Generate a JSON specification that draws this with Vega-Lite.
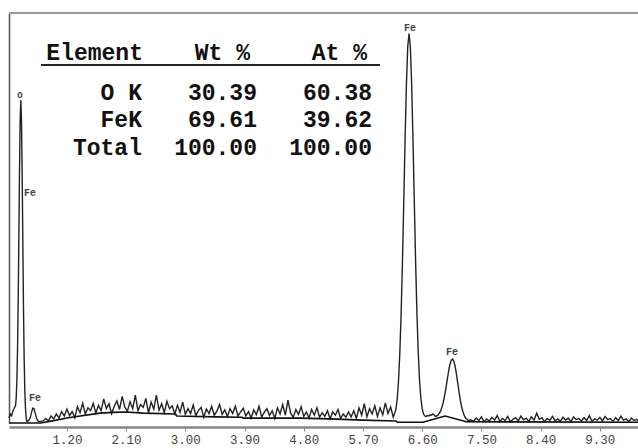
{
  "$schema": "https://vega.github.io/schema/vega-lite/v6.json",
  "width": 629,
  "height": 410,
  "autosize": "none",
  "padding": {"left": 9, "top": 13, "right": 0, "bottom": 25},
  "background": "white",
  "config": {"view": {"stroke": null}},
  "datasets": {
    "spec": [
      {"e":0.32,"c":12},{"e":0.34,"c":22},{"e":0.36,"c":18},{"e":0.38,"c":30},{"e":0.40,"c":36},{"e":0.42,"c":43},
      {"e":0.43,"c":62},{"e":0.44,"c":106},{"e":0.45,"c":182},{"e":0.46,"c":301},{"e":0.47,"c":457},{"e":0.48,"c":618},
      {"e":0.49,"c":742},{"e":0.50,"c":787},{"e":0.51,"c":737},{"e":0.52,"c":608},{"e":0.53,"c":443},{"e":0.54,"c":284},
      {"e":0.55,"c":161},{"e":0.56,"c":81},{"e":0.57,"c":37},{"e":0.58,"c":15},{"e":0.59,"c":5},{"e":0.60,"c":4},
      {"e":0.62,"c":6},{"e":0.64,"c":12},{"e":0.66,"c":24},{"e":0.68,"c":36},{"e":0.70,"c":35},{"e":0.72,"c":23},
      {"e":0.74,"c":11},{"e":0.76,"c":5},{"e":0.78,"c":3},{"e":0.80,"c":4},
      {"e":0.84,"c":5},{"e":0.88,"c":11},{"e":0.92,"c":5},{"e":0.96,"c":17},{"e":1.00,"c":10},{"e":1.04,"c":22},
      {"e":1.08,"c":12},{"e":1.12,"c":28},{"e":1.16,"c":17},{"e":1.20,"c":34},{"e":1.24,"c":18},{"e":1.28,"c":28},
      {"e":1.32,"c":13},{"e":1.36,"c":40},{"e":1.40,"c":25},{"e":1.44,"c":48},{"e":1.48,"c":22},{"e":1.52,"c":37},
      {"e":1.56,"c":30},{"e":1.60,"c":48},{"e":1.64,"c":24},{"e":1.68,"c":43},{"e":1.72,"c":30},{"e":1.76,"c":59},
      {"e":1.80,"c":35},{"e":1.84,"c":47},{"e":1.88,"c":23},{"e":1.92,"c":41},{"e":1.96,"c":54},{"e":2.00,"c":33},
      {"e":2.04,"c":65},{"e":2.08,"c":39},{"e":2.12,"c":29},{"e":2.16,"c":52},{"e":2.20,"c":35},{"e":2.24,"c":68},
      {"e":2.28,"c":30},{"e":2.32,"c":45},{"e":2.36,"c":38},{"e":2.40,"c":60},{"e":2.44,"c":25},{"e":2.48,"c":51},
      {"e":2.52,"c":34},{"e":2.56,"c":68},{"e":2.60,"c":31},{"e":2.64,"c":47},{"e":2.68,"c":25},{"e":2.72,"c":53},
      {"e":2.76,"c":35},{"e":2.80,"c":42},{"e":2.84,"c":22},{"e":2.88,"c":43},{"e":2.92,"c":26},{"e":2.96,"c":51},
      {"e":3.00,"c":21},{"e":3.04,"c":35},{"e":3.08,"c":23},{"e":3.12,"c":44},{"e":3.16,"c":18},{"e":3.20,"c":31},
      {"e":3.24,"c":38},{"e":3.28,"c":14},{"e":3.32,"c":34},{"e":3.36,"c":23},{"e":3.40,"c":41},{"e":3.44,"c":19},
      {"e":3.48,"c":29},{"e":3.52,"c":45},{"e":3.56,"c":21},{"e":3.60,"c":32},{"e":3.64,"c":16},{"e":3.68,"c":35},
      {"e":3.72,"c":23},{"e":3.76,"c":41},{"e":3.80,"c":17},{"e":3.84,"c":27},{"e":3.88,"c":36},{"e":3.92,"c":17},
      {"e":3.96,"c":28},{"e":4.00,"c":12},{"e":4.04,"c":32},{"e":4.08,"c":20},{"e":4.12,"c":41},{"e":4.16,"c":15},
      {"e":4.20,"c":26},{"e":4.24,"c":35},{"e":4.28,"c":18},{"e":4.32,"c":30},{"e":4.36,"c":11},{"e":4.40,"c":37},
      {"e":4.44,"c":22},{"e":4.48,"c":45},{"e":4.52,"c":19},{"e":4.56,"c":56},{"e":4.60,"c":24},{"e":4.64,"c":14},
      {"e":4.68,"c":33},{"e":4.72,"c":21},{"e":4.76,"c":40},{"e":4.80,"c":16},{"e":4.84,"c":27},{"e":4.88,"c":12},
      {"e":4.92,"c":33},{"e":4.96,"c":19},{"e":5.00,"c":37},{"e":5.04,"c":14},{"e":5.08,"c":25},{"e":5.12,"c":16},
      {"e":5.16,"c":30},{"e":5.20,"c":10},{"e":5.24,"c":27},{"e":5.28,"c":19},{"e":5.32,"c":33},{"e":5.36,"c":11},
      {"e":5.40,"c":22},{"e":5.44,"c":14},{"e":5.48,"c":27},{"e":5.52,"c":15},{"e":5.56,"c":30},{"e":5.60,"c":11},
      {"e":5.64,"c":37},{"e":5.68,"c":19},{"e":5.72,"c":47},{"e":5.76,"c":15},{"e":5.80,"c":35},{"e":5.84,"c":22},
      {"e":5.88,"c":42},{"e":5.92,"c":16},{"e":5.96,"c":37},{"e":6.00,"c":20},{"e":6.04,"c":49},{"e":6.08,"c":23},
      {"e":6.12,"c":39},{"e":6.14,"c":27},{"e":6.16,"c":14},{"e":6.18,"c":23},{"e":6.20,"c":33},{"e":6.22,"c":58},
      {"e":6.24,"c":102},{"e":6.26,"c":171},{"e":6.28,"c":268},{"e":6.30,"c":393},{"e":6.32,"c":540},{"e":6.34,"c":691},
      {"e":6.36,"c":825},{"e":6.38,"c":917},{"e":6.40,"c":950},{"e":6.42,"c":917},{"e":6.44,"c":825},{"e":6.46,"c":691},
      {"e":6.48,"c":540},{"e":6.50,"c":393},{"e":6.52,"c":268},{"e":6.54,"c":172},{"e":6.56,"c":103},{"e":6.58,"c":60},
      {"e":6.60,"c":35},{"e":6.62,"c":22},{"e":6.64,"c":17},{"e":6.66,"c":16},{"e":6.68,"c":18},{"e":6.70,"c":17},
      {"e":6.72,"c":20},{"e":6.74,"c":19},{"e":6.76,"c":22},{"e":6.78,"c":20},{"e":6.80,"c":16},{"e":6.82,"c":17},
      {"e":6.84,"c":19},{"e":6.86,"c":24},{"e":6.88,"c":29},{"e":6.90,"c":39},{"e":6.92,"c":50},{"e":6.94,"c":66},
      {"e":6.96,"c":84},{"e":6.98,"c":105},{"e":7.00,"c":125},{"e":7.02,"c":142},{"e":7.04,"c":153},{"e":7.06,"c":156},
      {"e":7.08,"c":151},{"e":7.10,"c":139},{"e":7.12,"c":120},{"e":7.14,"c":98},{"e":7.16,"c":75},{"e":7.18,"c":55},
      {"e":7.20,"c":39},{"e":7.22,"c":27},{"e":7.24,"c":18},{"e":7.26,"c":12},{"e":7.28,"c":9},{"e":7.30,"c":6},
      {"e":7.34,"c":8},{"e":7.38,"c":4},{"e":7.42,"c":12},{"e":7.46,"c":6},{"e":7.50,"c":15},{"e":7.54,"c":3},
      {"e":7.58,"c":10},{"e":7.62,"c":5},{"e":7.66,"c":14},{"e":7.70,"c":7},{"e":7.74,"c":18},{"e":7.78,"c":4},
      {"e":7.82,"c":11},{"e":7.86,"c":6},{"e":7.90,"c":16},{"e":7.94,"c":3},{"e":7.98,"c":9},{"e":8.02,"c":13},
      {"e":8.06,"c":5},{"e":8.10,"c":17},{"e":8.14,"c":8},{"e":8.18,"c":12},{"e":8.22,"c":4},{"e":8.26,"c":15},
      {"e":8.30,"c":7},{"e":8.34,"c":24},{"e":8.38,"c":9},{"e":8.42,"c":13},{"e":8.46,"c":3},{"e":8.50,"c":11},
      {"e":8.54,"c":6},{"e":8.58,"c":16},{"e":8.62,"c":5},{"e":8.66,"c":10},{"e":8.70,"c":4},{"e":8.74,"c":14},
      {"e":8.78,"c":7},{"e":8.82,"c":12},{"e":8.86,"c":3},{"e":8.90,"c":15},{"e":8.94,"c":8},{"e":8.98,"c":11},
      {"e":9.02,"c":5},{"e":9.06,"c":13},{"e":9.10,"c":6},{"e":9.14,"c":18},{"e":9.18,"c":4},{"e":9.22,"c":10},
      {"e":9.26,"c":7},{"e":9.30,"c":14},{"e":9.34,"c":5},{"e":9.38,"c":16},{"e":9.42,"c":8},{"e":9.46,"c":11},
      {"e":9.50,"c":4},{"e":9.54,"c":13},{"e":9.58,"c":6},{"e":9.62,"c":17},{"e":9.66,"c":7},{"e":9.70,"c":10},
      {"e":9.74,"c":3},{"e":9.78,"c":12},{"e":9.82,"c":6},{"e":9.86,"c":9},{"e":9.88,"c":5}
    ],
    "bkg": [
      {"e":0.32,"c":0},{"e":0.80,"c":0},{"e":0.96,"c":4.5},{"e":1.2,"c":12},{"e":1.7,"c":24},{"e":1.9,"c":26},
      {"e":2.1,"c":27},{"e":2.36,"c":24},{"e":2.85,"c":22},{"e":2.87,"c":17},{"e":3.45,"c":15},{"e":3.86,"c":14},
      {"e":3.88,"c":12},{"e":4.74,"c":12},{"e":5.2,"c":10},{"e":5.7,"c":7},{"e":6.2,"c":5},{"e":6.22,"c":2},
      {"e":6.61,"c":2},{"e":6.95,"c":17},{"e":7.27,"c":3},{"e":9.88,"c":2}
    ],
    "peaks": [
      {"e":0.486,"c":800,"t":"O","s":9},
      {"e":0.639,"c":561,"t":"Fe","s":10},
      {"e":0.715,"c":61,"t":"Fe","s":10},
      {"e":6.414,"c":963,"t":"Fe","s":10},
      {"e":7.053,"c":173,"t":"Fe","s":10}
    ],
    "table": [
      {"e":2.356,"c":885,"t":"Element"},
      {"e":3.983,"c":885,"t":"Wt %"},
      {"e":5.761,"c":885,"t":"At %"},
      {"e":2.341,"c":788,"t":"O K"},
      {"e":4.089,"c":788,"t":"30.39"},
      {"e":5.837,"c":788,"t":"60.38"},
      {"e":2.341,"c":722,"t":"FeK"},
      {"e":4.089,"c":722,"t":"69.61"},
      {"e":5.837,"c":722,"t":"39.62"},
      {"e":2.341,"c":654,"t":"Total"},
      {"e":4.089,"c":654,"t":"100.00"},
      {"e":5.837,"c":654,"t":"100.00"}
    ],
    "underline": [{"e":0.806,"e2":5.958,"c":873}],
    "top": [{"e":0.32,"e2":9.88,"c":1000}]
  },
  "layer": [
    {
      "data": {"name": "top"},
      "mark": {"type": "rule", "color": "#999999", "strokeWidth": 2},
      "encoding": {
        "x": {"field": "e", "type": "quantitative"},
        "x2": {"field": "e2"},
        "y": {"field": "c", "type": "quantitative"}
      }
    },
    {
      "data": {"name": "spec"},
      "mark": {"type": "line", "color": "#222222", "strokeWidth": 1.4, "interpolate": "linear"},
      "encoding": {
        "x": {
          "field": "e", "type": "quantitative",
          "scale": {"domain": [0.32, 9.88], "nice": false, "zero": false},
          "axis": {
            "title": null, "values": [1.2, 2.1, 3.0, 3.9, 4.8, 5.7, 6.6, 7.5, 8.4, 9.3],
            "format": ".2f", "offset": 4, "domainColor": "#888888", "domainWidth": 2.5,
            "tickColor": "#888888", "tickSize": 4, "labelPadding": 2, "labelDx": 8,
            "labelFont": "Liberation Mono", "labelFontSize": 12.5, "labelColor": "#444444",
            "grid": false
          }
        },
        "y": {
          "field": "c", "type": "quantitative",
          "scale": {"domain": [0, 1000], "nice": false},
          "axis": {"title": null, "labels": false, "ticks": false, "grid": false,
                   "domainColor": "#555555", "domainWidth": 1.5}
        }
      }
    },
    {
      "data": {"name": "bkg"},
      "mark": {"type": "line", "color": "#111111", "strokeWidth": 1.6},
      "encoding": {
        "x": {"field": "e", "type": "quantitative"},
        "y": {"field": "c", "type": "quantitative"}
      }
    },
    {
      "data": {"name": "peaks"},
      "mark": {"type": "text", "font": "Liberation Mono", "fontWeight": "bold", "color": "#444444", "align": "center", "baseline": "middle"},
      "encoding": {
        "x": {"field": "e", "type": "quantitative"},
        "y": {"field": "c", "type": "quantitative"},
        "text": {"field": "t"},
        "size": {"field": "s", "type": "quantitative", "scale": null}
      }
    },
    {
      "data": {"name": "table"},
      "mark": {"type": "text", "font": "Liberation Mono", "fontWeight": "bold", "fontSize": 23, "color": "#111111", "align": "right", "baseline": "alphabetic"},
      "encoding": {
        "x": {"field": "e", "type": "quantitative"},
        "y": {"field": "c", "type": "quantitative"},
        "text": {"field": "t"}
      }
    },
    {
      "data": {"name": "underline"},
      "mark": {"type": "rule", "color": "#222222", "strokeWidth": 2},
      "encoding": {
        "x": {"field": "e", "type": "quantitative"},
        "x2": {"field": "e2"},
        "y": {"field": "c", "type": "quantitative"}
      }
    }
  ]
}
